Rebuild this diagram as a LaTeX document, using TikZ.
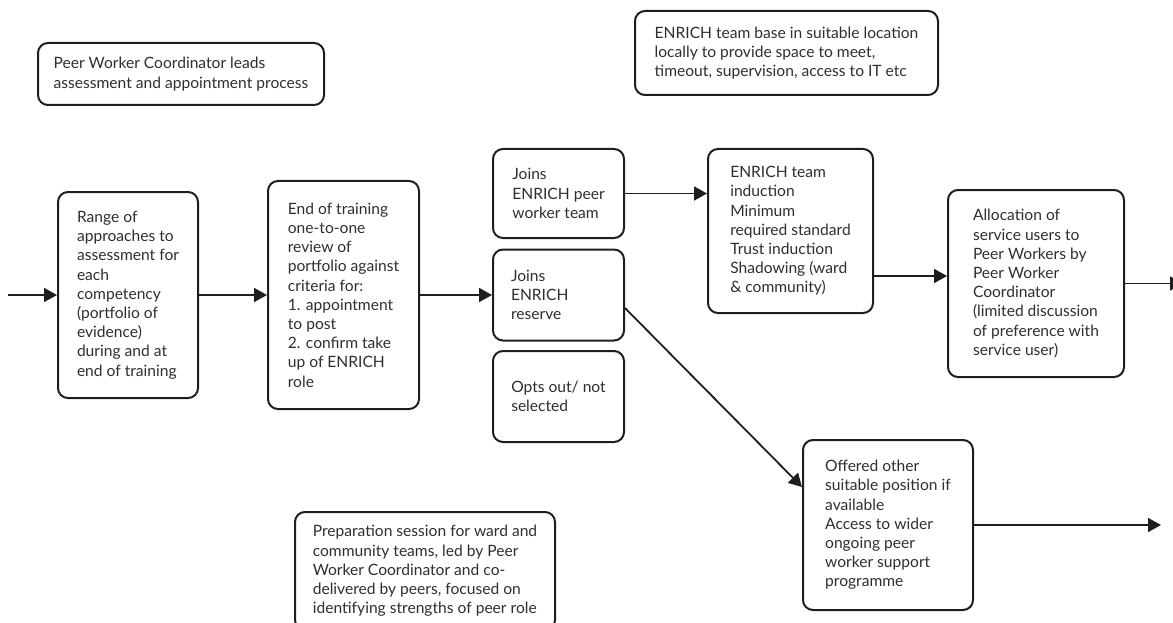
\documentclass[tikz,border=0pt]{standalone}
\usepackage{fontspec}
\setmainfont{Lato}
\usepackage{xcolor}
\usepackage{tikz}
\usetikzlibrary{arrows.meta,positioning}
\definecolor{ink}{HTML}{1E1E1E}
\definecolor{words}{HTML}{2E2E2E}
\tikzset{
  box/.style={draw=ink, line width=2pt, rounded corners=10pt, align=left,
    text=words, inner sep=0pt, font=\fontsize{15.6pt}{19.2pt}\selectfont},
  flow/.style={draw=ink, line width=1.8pt, -{Triangle[length=13pt,width=14pt]}}
}
\begin{document}
\begin{tikzpicture}[x=1pt,y=-1pt]
  \useasboundingbox (0,0) rectangle (1173,623); % 与原图同尺寸
  % 注释框
  \node[box, minimum width=286pt, minimum height=62pt] (lead) at (181,74)
    {Peer Worker Coordinator leads\\assessment and appointment process};
  \node[box, minimum width=303pt, minimum height=84pt] (base) at (786.5,53)
    {ENRICH team base in suitable location\\locally to provide space to meet,\\timeout, supervision, access to IT etc};
  \node[box, minimum width=260pt, minimum height=118pt] (prep) at (425,571)
    {Preparation session for ward and\\community teams, led by Peer\\Worker Coordinator and co-\\delivered by peers, focused on\\identifying strengths of peer role};
  % 流程框
  \node[box, minimum width=140pt, minimum height=206pt] (range) at (128,295)
    {Range of\\approaches to\\assessment for\\each\\competency\\(portfolio of\\evidence)\\during and at\\end of training};
  \node[box, minimum width=151pt, minimum height=228pt] (review) at (343.5,295)
    {End of training\\one-to-one\\review of\\portfolio against\\criteria for:\\1. appointment\\to post\\2. confirm take\\up of ENRICH\\role};
  \node[box, minimum width=131pt, minimum height=89pt] (team) at (558.5,193.5)
    {Joins\\ENRICH peer\\worker team};
  \node[box, minimum width=131pt, minimum height=91pt, text width=95pt] (reserve) at (558.5,295)
    {Joins\\ENRICH\\reserve};
  \node[box, minimum width=131pt, minimum height=91pt] (optout) at (558.5,396.5)
    {Opts out/ not\\selected};
  \node[box, minimum width=165pt, minimum height=164pt] (induct) at (790.5,231)
    {ENRICH team\\induction\\Minimum\\required standard\\Trust induction\\Shadowing (ward\\\& community)};
  \node[box, minimum width=176pt, minimum height=187pt] (alloc) at (1036,283.5)
    {Allocation of\\service users to\\Peer Workers by\\Peer Worker\\Coordinator\\(limited discussion\\of preference with\\service user)};
  \node[box, minimum width=170pt, minimum height=170pt] (offer) at (888,525)
    {Offered other\\suitable position if\\available\\Access to wider\\ongoing peer\\worker support\\programme};
  % 自由端点
  \coordinate (start) at (8,295);
  \coordinate (outA) at (1183,283.5);
  \coordinate (outB) at (1161,525);
  % 连线
  \draw[flow] (start) -- (range);
  \draw[flow] (range) -- (review);
  \draw[flow] (review) -- (reserve);
  \draw[flow] (team.east) -- (team.east -| induct.west);
  \draw[flow] ([yshift=-45pt]induct.east) -- ([yshift=-45pt]induct.east -| alloc.west);
  \draw[flow] (alloc) -- (outA);
  \draw[flow] ([yshift=-13pt]reserve.east) -- ([yshift=38pt]offer.west);
  \draw[flow] (offer) -- (outB);
\end{tikzpicture}
\end{document}
